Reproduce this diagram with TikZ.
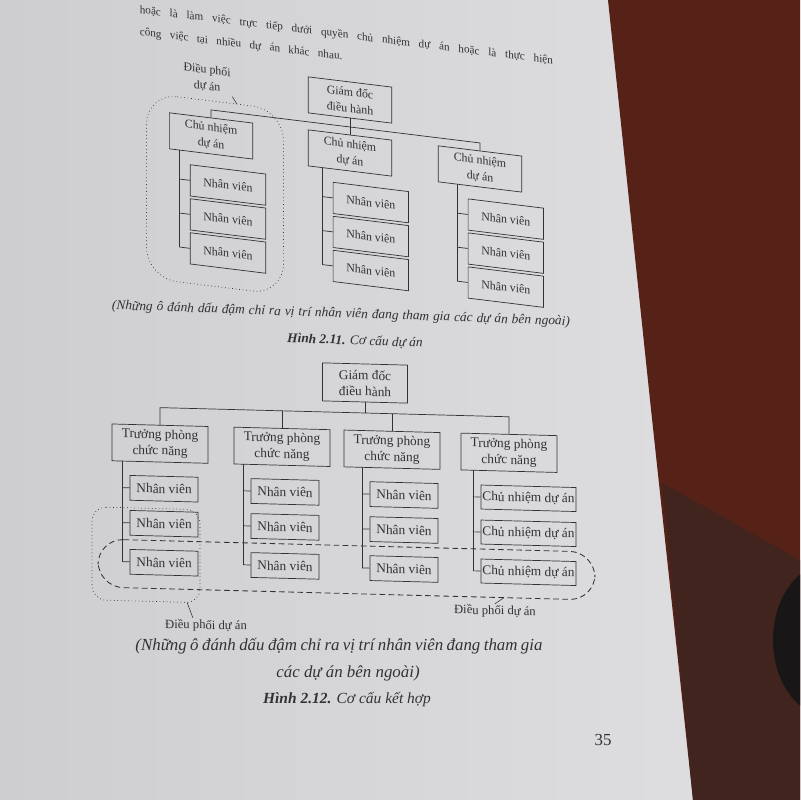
\documentclass[tikz,border=0pt]{standalone}
\usepackage{fontspec}
\setmainfont{Liberation Serif}

\definecolor{paperleft}{RGB}{206,206,209}
\definecolor{paperright}{RGB}{224,224,227}
\definecolor{ink}{RGB}{50,50,54}
\definecolor{tabletop}{RGB}{86,33,22}
\definecolor{tablelow}{RGB}{66,36,30}
\definecolor{tape}{RGB}{24,22,22}

\tikzset{
  orgbox/.style={draw=ink, line width=0.5pt, text=ink, align=center, inner sep=1pt},
  topbox/.style={orgbox, font=\fontsize{8.5}{11.5}\selectfont, minimum width=2.1cm, minimum height=0.9cm},
  topstaff/.style={orgbox, font=\fontsize{8.5}{10}\selectfont, minimum width=1.9cm, minimum height=0.78cm},
  headbox/.style={orgbox, font=\fontsize{9.5}{11.5}\selectfont, minimum width=2.4cm, minimum height=0.92cm},
  staffbox/.style={orgbox, font=\fontsize{9.5}{10}\selectfont, minimum width=1.7cm, minimum height=0.62cm},
  pmbox/.style={staffbox, minimum width=2.375cm, minimum height=0.6cm},
  branch/.style={draw=ink, line width=0.5pt},
  dotzone/.style={draw=ink, line width=0.5pt, dotted},
  dashzone/.style={draw=ink, line width=0.6pt, dash pattern=on 4pt off 2.5pt},
  remark/.style={text=ink, align=center, inner sep=1pt, font=\fontsize{8.5}{11.5}\selectfont},
}

\begin{document}
\begin{tikzpicture}[x=0.025cm, y=-0.025cm]

    % Page, table and the roll of tape
    \useasboundingbox (0,0) rectangle (800,800);
    \begin{scope}
      \clip (0,0) rectangle (800,800);
      \shade[left color=paperleft, right color=paperright] (0,0) rectangle (800,800);
      \fill[tabletop] (608,0) -- (800,0) -- (800,800) -- (693,800) -- (650,400) -- cycle;
      \fill[tablelow] (662,483) -- (800,560) -- (800,800) -- (693,800) -- cycle;
      \fill[tape] (828,640) ellipse [x radius=55, y radius=76];
    \end{scope}

    % Figure 2.11 (page tilted)
    \begin{scope}[shift={(350,100)}, cm={0.9925,-0.1219,0,1,(0,0)}, transform shape]
      \node[text=ink, anchor=west, inner sep=0pt, font=\fontsize{8}{9.5}\selectfont] (line1) at (-212,-64)
        {\makebox[10.4cm][s]{hoặc là làm việc trực tiếp dưới quyền chủ nhiệm dự án hoặc là thực hiện}};
      \node[text=ink, anchor=west, inner sep=0pt, font=\fontsize{8}{9.5}\selectfont] (line2) at (-212,-42)
        {\makebox[5.1cm][s]{công việc tại nhiều dự án khác nhau.}};

      \node[topbox] (GD) at (0,0) {Giám đốc\\điều hành};
      \node[topbox] (CN1) at (-140,53) {Chủ nhiệm\\dự án};
      \node[topbox] (CN2) at (0,53) {Chủ nhiệm\\dự án};
      \node[topbox] (CN3) at (131,53) {Chủ nhiệm\\dự án};

      \foreach \c/\u in {1/-123, 2/21, 3/157} {
        \foreach \r/\v in {1/100, 2/134, 3/168} {
          \node[topstaff] (NV\c\r) at (\u,\v) {Nhân viên};
        }
      }

      % Director to managers
      \coordinate (B1) at (-140,27);
      \coordinate (B3) at (131,27);
      \draw[branch] (CN1.north) -- (B1) -- (B3) -- (CN3.north);
      \draw[branch] (GD.south) -- (CN2.north);

      % Managers to staff
      \foreach \c/\s in {1/-172, 2/-28, 3/108} {
        \coordinate (S\c) at (\s,71);
        \foreach \r/\v in {1/100, 2/134, 3/168} {
          \coordinate (S\c\r) at (\s,\v);
          \draw[branch] (S\c\r) -- (NV\c\r.west);
        }
        \draw[branch] (S\c) -- (S\c3);
      }

      % Coordination zone
      \draw[dotzone, rounded corners=22] (-205,18) -- (-67,18) -- (-67,203) -- (-205,203) -- cycle;
      \node[remark] (DP1) at (-144,-4) {Điều phối\\dự án};
      \coordinate (Z1) at (-114,18);
      \draw[branch, line width=0.4pt] (DP1.south east) -- (Z1);
    \end{scope}

    \node[text=ink, rotate=-2, inner sep=0pt, font=\itshape\fontsize{9.5}{11}\selectfont] (cap1) at (341,314)
      {\makebox[11.45cm][s]{(Những ô đánh dấu đậm chỉ ra vị trí nhân viên đang tham gia các dự án bên ngoài)}};
    \node[text=ink, rotate=-2, inner sep=0pt, font=\itshape\fontsize{9.5}{11}\selectfont] (fig1) at (355,341)
      {\textbf{Hình 2.11.} Cơ cấu dự án};

    % Figure 2.12
    \begin{scope}[shift={(365,383)}, cm={0.99966,-0.02618,0,1,(0,0)}, transform shape]
      \node[orgbox, font=\fontsize{9.5}{11.5}\selectfont, minimum width=2.125cm, minimum height=0.95cm] (GDb) at (0,0) {Giám đốc\\điều hành};
      \node[headbox] (TP1) at (-205,66) {Trưởng phòng\\chức năng};
      \node[headbox] (TP2) at (-83,66) {Trưởng phòng\\chức năng};
      \node[headbox] (TP3) at (27,66) {Trưởng phòng\\chức năng};
      \node[headbox] (TP4) at (144,66) {Trưởng phòng\\chức năng};

      \foreach \c/\u in {1/-201, 2/-80, 3/39} {
        \foreach \r/\v in {1/111, 2/146, 3/185} {
          \node[staffbox] (NVb\c\r) at (\u,\v) {Nhân viên};
        }
      }
      \foreach \r/\v in {1/111, 2/146, 3/185} {
        \node[pmbox] (NVb4\r) at (163.5,\v) {Chủ nhiệm dự án};
      }

      % Director to department heads
      \coordinate (Bb0) at (0,30);
      \coordinate (Bb1) at (-205,30);
      \coordinate (Bb2) at (-83,30);
      \coordinate (Bb3) at (27,30);
      \coordinate (Bb4) at (144,30);
      \draw[branch] (TP1.north) -- (Bb1) -- (Bb4) -- (TP4.north);
      \draw[branch] (GDb.south) -- (Bb0);
      \draw[branch] (Bb2) -- (TP2.north);
      \draw[branch] (Bb3) -- (TP3.north);

      % Department heads to their people
      \foreach \c/\s in {1/-243, 2/-122, 3/-3, 4/108} {
        \coordinate (Sb\c) at (\s,84.4);
        \foreach \r/\v in {1/111, 2/146, 3/185} {
          \coordinate (Sb\c\r) at (\s,\v);
          \draw[branch] (Sb\c\r) -- (NVb\c\r.west);
        }
        \draw[branch] (Sb\c) -- (Sb\c3);
      }

      % Coordination zones
      \draw[dashzone, rounded corners=18] (-267,163) -- (230,163) -- (230,211) -- (-267,211) -- cycle;
      \draw[dotzone, rounded corners=10] (-273,131) -- (-165,131) -- (-165,224) -- (-273,224) -- cycle;
      \node[remark, font=\fontsize{9}{10}\selectfont] (DP2) at (-159,247) {Điều phối dự án};
      \node[remark, font=\fontsize{9}{10}\selectfont] (DP3) at (130,225) {Điều phối dự án};
      \coordinate (Z2) at (-178,224);
      \coordinate (Z3) at (139,211);
      \draw[branch, line width=0.4pt] (Z2) -- (DP2.150);
      \draw[branch, line width=0.4pt] (Z3) -- (DP3.north);
    \end{scope}

    \node[text=ink, inner sep=0pt, font=\itshape\fontsize{12}{14}\selectfont] (cap2) at (339,646)
      {\makebox[10.175cm][s]{(Những ô đánh dấu đậm chỉ ra vị trí nhân viên đang tham gia}};
    \node[text=ink, inner sep=0pt, font=\itshape\fontsize{12}{14}\selectfont] (cap2b) at (348,673)
      {các dự án bên ngoài)};
    \node[text=ink, inner sep=0pt, font=\itshape\fontsize{11}{13}\selectfont] (fig2) at (347,700)
      {\textbf{Hình 2.12.} Cơ cấu kết hợp};
    \node[text=ink, inner sep=0pt, font=\fontsize{12}{14}\selectfont] (page) at (603,740) {35};

\end{tikzpicture}
\end{document}
